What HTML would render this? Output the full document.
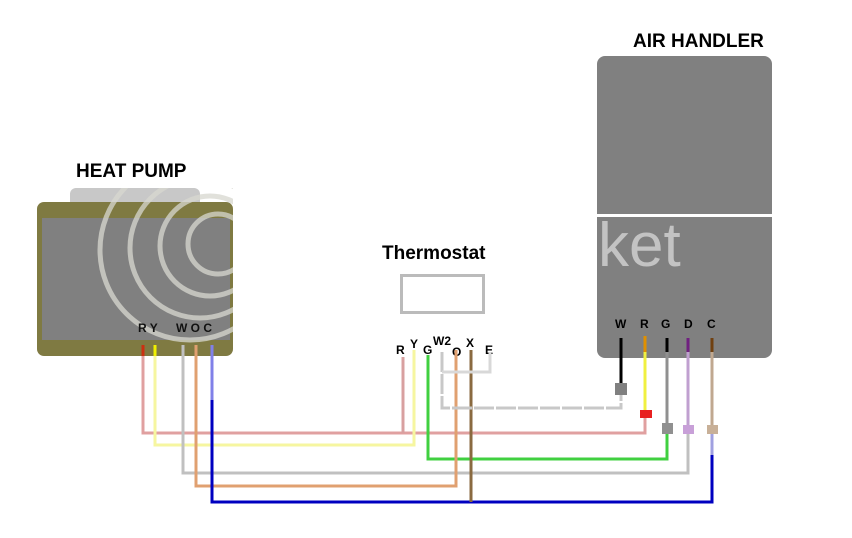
<!DOCTYPE html>
<html><head><meta charset="utf-8"><style>
html,body{margin:0;padding:0;background:#fff;}
svg{display:block;}
text{font-family:"Liberation Sans",Arial,sans-serif;font-weight:bold;}
</style></head><body>
<svg width="852" height="538" viewBox="0 0 852 538" xmlns="http://www.w3.org/2000/svg">
<defs>
<clipPath id="hp"><rect x="37" y="188" width="196" height="168"/></clipPath>
</defs>
<rect width="852" height="538" fill="#fff"/>
<!-- Heat pump -->
<text x="76" y="177" font-size="19" style="fill:#000">HEAT PUMP</text>
<rect x="70" y="188" width="130" height="20" rx="6" fill="#c8c8c8"/>
<rect x="37" y="202" width="196" height="154" rx="7" fill="#7f7a42"/>
<rect x="42" y="218" width="188" height="122" fill="#808080"/>
<g fill="none" stroke="#d8d8d0" stroke-width="5" opacity="0.75" clip-path="url(#hp)">
<circle cx="190" cy="250" r="90"/><circle cx="200" cy="248" r="70"/><circle cx="210" cy="246" r="50"/><circle cx="218" cy="244" r="30"/>
</g>
<text x="138" y="332" font-size="12" style="fill:#111">R Y</text>
<text x="176" y="332" font-size="12" style="fill:#111">W O C</text>
<!-- Air handler -->
<text x="633" y="47" font-size="19" style="fill:#000">AIR HANDLER</text>
<rect x="597" y="56" width="175" height="302" rx="8" fill="#808080"/>
<rect x="597" y="214" width="175" height="3" fill="#fff"/>
<text x="598" y="266" font-size="62" style="fill:#cfcfcf;font-weight:normal;opacity:0.85">ket</text>
<g font-size="12" style="fill:#000"><text x="615" y="328">W</text><text x="640" y="328">R</text><text x="661" y="328">G</text><text x="684" y="328">D</text><text x="707" y="328">C</text></g>
<!-- Thermostat -->
<text x="382" y="259" font-size="19" style="fill:#000">Thermostat</text>
<rect x="401.5" y="275.5" width="82" height="37" fill="#fff" stroke="#bbb" stroke-width="3"/>
<g font-size="12" style="fill:#000"><text x="396" y="354">R</text><text x="410" y="348">Y</text><text x="423" y="354">G</text><text x="433" y="345">W2</text><text x="452" y="356">O</text><text x="466" y="347">X</text><text x="485" y="354">E</text></g>
<!-- wires -->
<g fill="none" stroke-width="3">
<polyline points="143,345 143,433 645,433 645,418" stroke="#e0a0a0"/>
<line x1="143" y1="345" x2="143" y2="356" stroke="#cc3010"/>
<line x1="403" y1="357" x2="403" y2="433" stroke="#d8a0a0"/>
<polyline points="155,345 155,445 414,445 414,350" stroke="#f6f6a0"/>
<line x1="155" y1="345" x2="155" y2="356" stroke="#f0f000"/>
<polyline points="428,355 428,459 667,459 667,430" stroke="#40d040"/>
<polyline points="183,345 183,473 688,473 688,430" stroke="#c0c0c0"/>
<polyline points="196,345 196,486 456,486 456,350" stroke="#e0a070"/>
<polyline points="212,345 212,502 712,502 712,455" stroke="#0000c0"/>
<line x1="212" y1="345" x2="212" y2="400" stroke="#8080e8"/>
<line x1="712" y1="455" x2="712" y2="430" stroke="#a0a0e0"/>
<line x1="471" y1="350" x2="471" y2="502" stroke="#8a6a40"/>
<polyline points="442,352 442,408 621,408 621,390" stroke="#c8c8c8" stroke-dasharray="20,2"/>
<polyline points="490,352 490,372 442,372" stroke="#d8d8d8"/>
<!-- AH wires -->
<line x1="621" y1="338" x2="621" y2="385" stroke="#000"/>
<line x1="645" y1="336" x2="645" y2="352" stroke="#e09000"/>
<line x1="645" y1="352" x2="645" y2="410" stroke="#f0f040"/>
<line x1="667" y1="338" x2="667" y2="352" stroke="#000"/>
<line x1="667" y1="352" x2="667" y2="425" stroke="#909090"/>
<line x1="688" y1="338" x2="688" y2="352" stroke="#702080"/>
<line x1="688" y1="352" x2="688" y2="425" stroke="#c0a0d0"/>
<line x1="712" y1="338" x2="712" y2="352" stroke="#704010"/>
<line x1="712" y1="352" x2="712" y2="425" stroke="#c0a890"/>
</g>
<rect x="615" y="383" width="12" height="12" fill="#808080"/>
<rect x="640" y="410" width="12" height="8" fill="#e82020"/>
<rect x="662" y="423" width="11" height="11" fill="#909090"/>
<rect x="683" y="425" width="11" height="9" fill="#c8a0d8"/>
<rect x="707" y="425" width="11" height="9" fill="#c8b098"/>
</svg>
</body></html>
